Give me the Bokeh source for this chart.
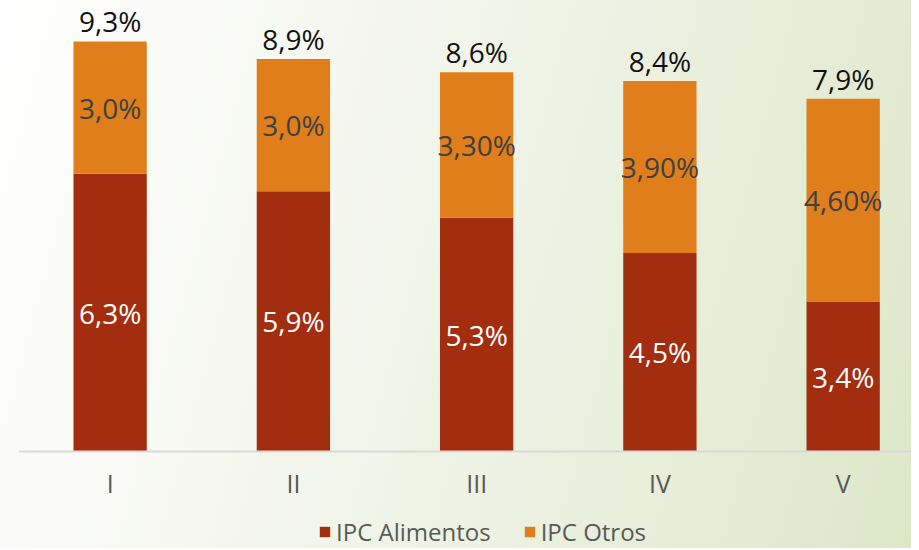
from bokeh.plotting import figure
from bokeh.models import ColumnDataSource, Range1d, Legend, LegendItem, Span
from bokeh.core.properties import value
from bokeh.embed import file_html
from bokeh.resources import INLINE

categories = ["I", "II", "III", "IV", "V"]
alimentos = [6.3, 5.9, 5.3, 4.5, 3.4]
otros = [3.0, 3.0, 3.3, 3.9, 4.6]
alimentos_labels = ["6,3%", "5,9%", "5,3%", "4,5%", "3,4%"]
otros_labels = ["3,0%", "3,0%", "3,30%", "3,90%", "4,60%"]
total_labels = ["9,3%", "8,9%", "8,6%", "8,4%", "7,9%"]

RED = "#A32D0F"
ORANGE = "#DF7E1A"
FONT = "Open Sans"

xs = list(range(1, len(categories) + 1))
tops = [a + o for a, o in zip(alimentos, otros)]
src = ColumnDataSource(dict(
    x=xs,
    cat=categories,
    zero=[0] * len(xs),
    alimentos=alimentos,
    otros=otros,
    a_mid=[a / 2 for a in alimentos],
    o_mid=[a + o / 2 for a, o in zip(alimentos, otros)],
    top=tops,
    a_lab=alimentos_labels,
    o_lab=otros_labels,
    t_lab=total_labels,
))

p = figure(
    frame_width=893, frame_height=540,
    x_range=Range1d(0.5, 5.373), y_range=Range1d(-2.2, 10.047),
    output_backend="svg", toolbar_location=None,
    min_border_left=18, min_border_right=0, min_border_top=8, min_border_bottom=0,
    styles={"background": "linear-gradient(105deg, #ffffff 0%, #f5f7ef 35%, #e9efdc 70%, #dde7c8 100%)"},
)
p.background_fill_color = None
p.border_fill_color = None
p.outline_line_color = None
p.grid.visible = False
p.xaxis.visible = False
p.yaxis.visible = False

rs = p.vbar_stack(["alimentos", "otros"], x="x", width=0.4, color=[RED, ORANGE],
                  line_color=None, source=src)

# category axis line and labels
p.add_layout(Span(location=0, dimension="width", line_color="#d9d9d9", line_width=2))
p.text(x="x", y="zero", text="cat", source=src, text_font=value(FONT),
       text_font_size="25px", text_color="#595959", text_align="center",
       text_baseline="middle", y_offset=32)

p.text(x="x", y="a_mid", text="a_lab", source=src, text_font=value(FONT),
       text_font_size="28px", text_color="white", text_align="center",
       text_baseline="middle")
p.text(x="x", y="o_mid", text="o_lab", source=src, text_font=value(FONT),
       text_font_size="28px", text_color="#404040", text_align="center",
       text_baseline="middle")
p.text(x="x", y="top", text="t_lab", source=src, text_font=value(FONT),
       text_font_size="28px", text_color="#111111", text_align="center",
       text_baseline="bottom", y_offset=-1)

legend = Legend(
    items=[LegendItem(label="IPC Alimentos", renderers=[rs[0]]),
           LegendItem(label="IPC Otros", renderers=[rs[1]])],
    orientation="horizontal", location=(300, 0),
    glyph_width=13, glyph_height=13, label_standoff=5, spacing=32,
    label_text_font=FONT, label_text_font_size="24px", label_text_color="#595959",
    border_line_color=None, background_fill_alpha=0, padding=0, margin=0,
)
p.add_layout(legend, "center")

open("out.html", "w").write(file_html(p, INLINE))
